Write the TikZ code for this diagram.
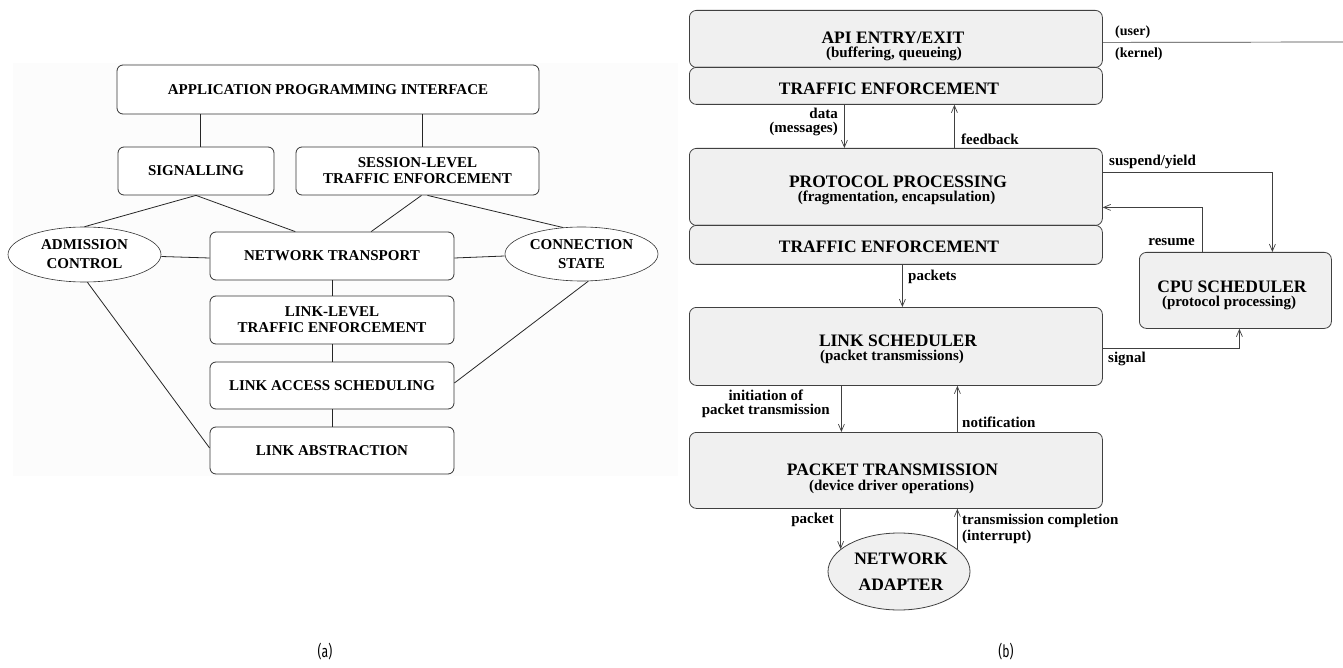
\documentclass[tikz,border=0pt]{standalone}
\usepackage{fontspec}
\setmainfont{Liberation Serif}
\newfontfamily\capfont[FakeStretch=0.72]{Fira Sans}
\usetikzlibrary{arrows.meta,shapes.geometric,calc}

\begin{document}
\begin{tikzpicture}[x=1pt,y=-1pt,
  lbox/.style={draw=black!80, line width=0.8pt, rounded corners=6pt, fill=white,
    minimum width=244pt, minimum height=48pt, align=center, inner sep=0pt,
    font=\fontsize{15}{16}\selectfont\bfseries},
  lell/.style={ellipse, draw=black!80, line width=0.6pt, fill=white,
    minimum width=153pt, minimum height=55pt, inner sep=0pt, align=center,
    font=\fontsize{15}{19}\selectfont\bfseries},
  link/.style={draw=black!85, line width=0.8pt},
  rbox/.style={draw=black!75, line width=0.8pt, rounded corners=7pt, fill=black!6,
    minimum width=413pt, anchor=north west, inner sep=0pt},
  rtitle/.style={font=\fontsize{17.5}{19}\selectfont\bfseries, inner sep=0pt},
  rsub/.style={font=\fontsize{15}{16}\selectfont\bfseries, inner sep=0pt},
  lab/.style={font=\fontsize{15}{13.5}\selectfont\bfseries, inner sep=0pt},
  smalllab/.style={font=\fontsize{14}{15}\selectfont\bfseries, inner sep=0pt},
  arr/.style={draw=black!75, line width=0.7pt, -{Straight Barb[length=7pt,width=6pt]}},
  plain/.style={draw=black!75, line width=0.7pt},
]
\useasboundingbox (0,0) rectangle (1343,668);

% ---------------- (a) layered architecture ----------------
\fill[black!1] (13,63) rectangle (678,476);

\node[lbox, minimum width=422pt, minimum height=49pt] (api) at (328,89.5)
  {APPLICATION PROGRAMMING INTERFACE};
\node[lbox, minimum width=156pt] (sig) at (196,171) {SIGNALLING};
\node[lbox, minimum width=243pt] (sess) at (417.5,171)
  {SESSION-LEVEL\\TRAFFIC ENFORCEMENT};
\node[lbox] (nt)  at (332,256)   {NETWORK TRANSPORT};
\node[lbox] (ll)  at (332,320)   {LINK-LEVEL\\TRAFFIC ENFORCEMENT};
\node[lbox, minimum height=47pt] (las) at (332,385.5) {LINK ACCESS SCHEDULING};
\node[lbox, minimum height=47pt] (la)  at (332,450.5) {LINK ABSTRACTION};
\node[lell] (adm) at (84.5,254.5) {ADMISSION\\CONTROL};
\node[lell, minimum height=54pt] (cs) at (581.5,254) {CONNECTION\\STATE};

\draw[link] ([xshift=4pt]sig.north) -- ([xshift=4pt]sig.north |- api.south);
\draw[link] ([xshift=5pt]sess.north) -- ([xshift=5pt]sess.north |- api.south);
\draw[link] (sig.south) -- (adm.north);
\draw[link] (sig.south) -- ($(nt.north west)!0.35!(nt.north east)$);
\draw[link] ([xshift=4pt]sess.south) -- ($(nt.north west)!0.66!(nt.north east)$);
\draw[link] ([xshift=10pt]sess.south) -- (cs.125);
\draw[link] ([yshift=-2pt]adm.east) -- ([yshift=-2pt]nt.west);
\draw[link] ([yshift=-2pt]nt.east) -- ([yshift=-2pt]cs.west);
\draw[link] (nt.south) -- (ll.north);
\draw[link] (ll.south) -- (las.north);
\draw[link] (las.south) -- (la.north);
\draw[link] (adm.-84) -- ([yshift=2.5pt]la.west);
\draw[link] (cs.-76) -- ([yshift=2.5pt]las.east);

% ---------------- (b) protocol processing path ----------------
\node[rbox, minimum height=57pt] (rapi) at (689,10)  {};
\node[rbox, minimum height=37pt] (rte1) at (689,67)  {};
\node[rbox, minimum height=77pt] (rpp)  at (689,148) {};
\node[rbox, minimum height=39pt] (rte2) at (689,225) {};
\node[rbox, minimum height=78pt] (rls)  at (689,307) {};
\node[rbox, minimum height=76pt] (rpt)  at (689,432) {};
\node[rbox, minimum width=192pt, minimum height=76pt] (cpu) at (1139,252) {};
\node[ellipse, draw=black!75, line width=0.8pt, fill=black!6,
  minimum width=142pt, minimum height=77pt, inner sep=0pt] (adapter) at (899,571.5) {};

\node[rtitle] (rapiT) at (893,37.5)  {API ENTRY/EXIT};
\node[rsub]   (rapiS) at (894,53.5)  {(buffering, queueing)};
\node[rtitle] (rte1T) at (889,89)    {TRAFFIC ENFORCEMENT};
\node[rtitle] (rppT)  at (898,181.5) {PROTOCOL PROCESSING};
\node[rsub]   (rppS)  at (896.5,198) {(fragmentation, encapsulation)};
\node[rtitle] (rte2T) at (889,247)   {TRAFFIC ENFORCEMENT};
\node[rtitle] (rlsT)  at (898,340.5) {LINK SCHEDULER};
\node[rsub]   (rlsS)  at (892,357)   {(packet transmissions)};
\node[rtitle] (rptT)  at (892.5,470) {PACKET TRANSMISSION};
\node[rsub]   (rptS)  at (891.5,486.5) {(device driver operations)};
\node[rtitle] (cpuT)  at (1232,286.5) {CPU SCHEDULER};
\node[rsub]   (cpuS)  at (1229,303)  {(protocol processing)};
\node[rtitle] (adT1)  at (901,559)   {NETWORK};
\node[rtitle] (adT2)  at (901,585)   {ADAPTER};

% user/kernel boundary
\coordinate (boundaryEnd) at (1343,42);
\draw[plain] ([yshift=-3.5pt]rapi.east) -- (boundaryEnd);
\node[smalllab, anchor=west] (userL)   at (1115,32) {(user)};
\node[smalllab, anchor=west] (kernelL) at (1115,54) {(kernel)};

% data path arrows
\draw[arr] ([xshift=-51.5pt]rte1.south) -- ([xshift=-51.5pt]rte1.south |- rpp.north);
\draw[arr] ([xshift=58.5pt]rpp.north) -- ([xshift=58.5pt]rpp.north |- rte1.south);
\draw[arr] ([xshift=6.5pt]rte2.south) -- ([xshift=6.5pt]rte2.south |- rls.north);
\draw[arr] ([xshift=-54.5pt]rls.south) -- ([xshift=-54.5pt]rls.south |- rpt.north);
\draw[arr] ([xshift=61.5pt]rpt.north) -- ([xshift=61.5pt]rpt.north |- rls.south);
\draw[arr] (adapter.159 |- rpt.south) -- (adapter.159);
\draw[arr] (adapter.21) -- (adapter.21 |- rpt.south);

% scheduler interaction
\draw[arr] ([yshift=14.5pt]rpp.east) -| ([xshift=37pt]cpu.north);
\draw[arr] ([xshift=-33pt]cpu.north) |- ([yshift=-20.5pt]rpp.east);
\draw[arr] ([yshift=-2pt]rls.east) -| ([xshift=4pt]cpu.south);

% connector labels
\node[lab, align=right, anchor=east] (dataL) at (838,122) {data\\(messages)};
\node[lab, anchor=west] (feedL)    at (961,139)  {feedback};
\node[lab, anchor=west] (suspL)    at (1109,162) {suspend/yield};
\node[lab, anchor=east] (resL)     at (1195,242) {resume};
\node[lab, anchor=west] (pktsL)    at (908,277)  {packets};
\node[lab, anchor=west] (sigL)     at (1108,359) {signal};
\node[lab, align=center, anchor=east] (initL) at (830,404) {initiation of\\packet transmission};
\node[lab, anchor=west] (notL)     at (962,422)  {notification};
\node[lab, anchor=east] (pktL)     at (834,520)  {packet};
\node[lab, align=left, anchor=west, font=\fontsize{15}{16}\selectfont\bfseries] (tcL) at (962,529)
  {transmission completion\\(interrupt)};

% panel captions
\node[font=\capfont\fontsize{17}{18}\selectfont] (capA) at (325,652) {(a)};
\node[font=\capfont\fontsize{17}{18}\selectfont] (capB) at (1006,652) {(b)};
\end{tikzpicture}
\end{document}
